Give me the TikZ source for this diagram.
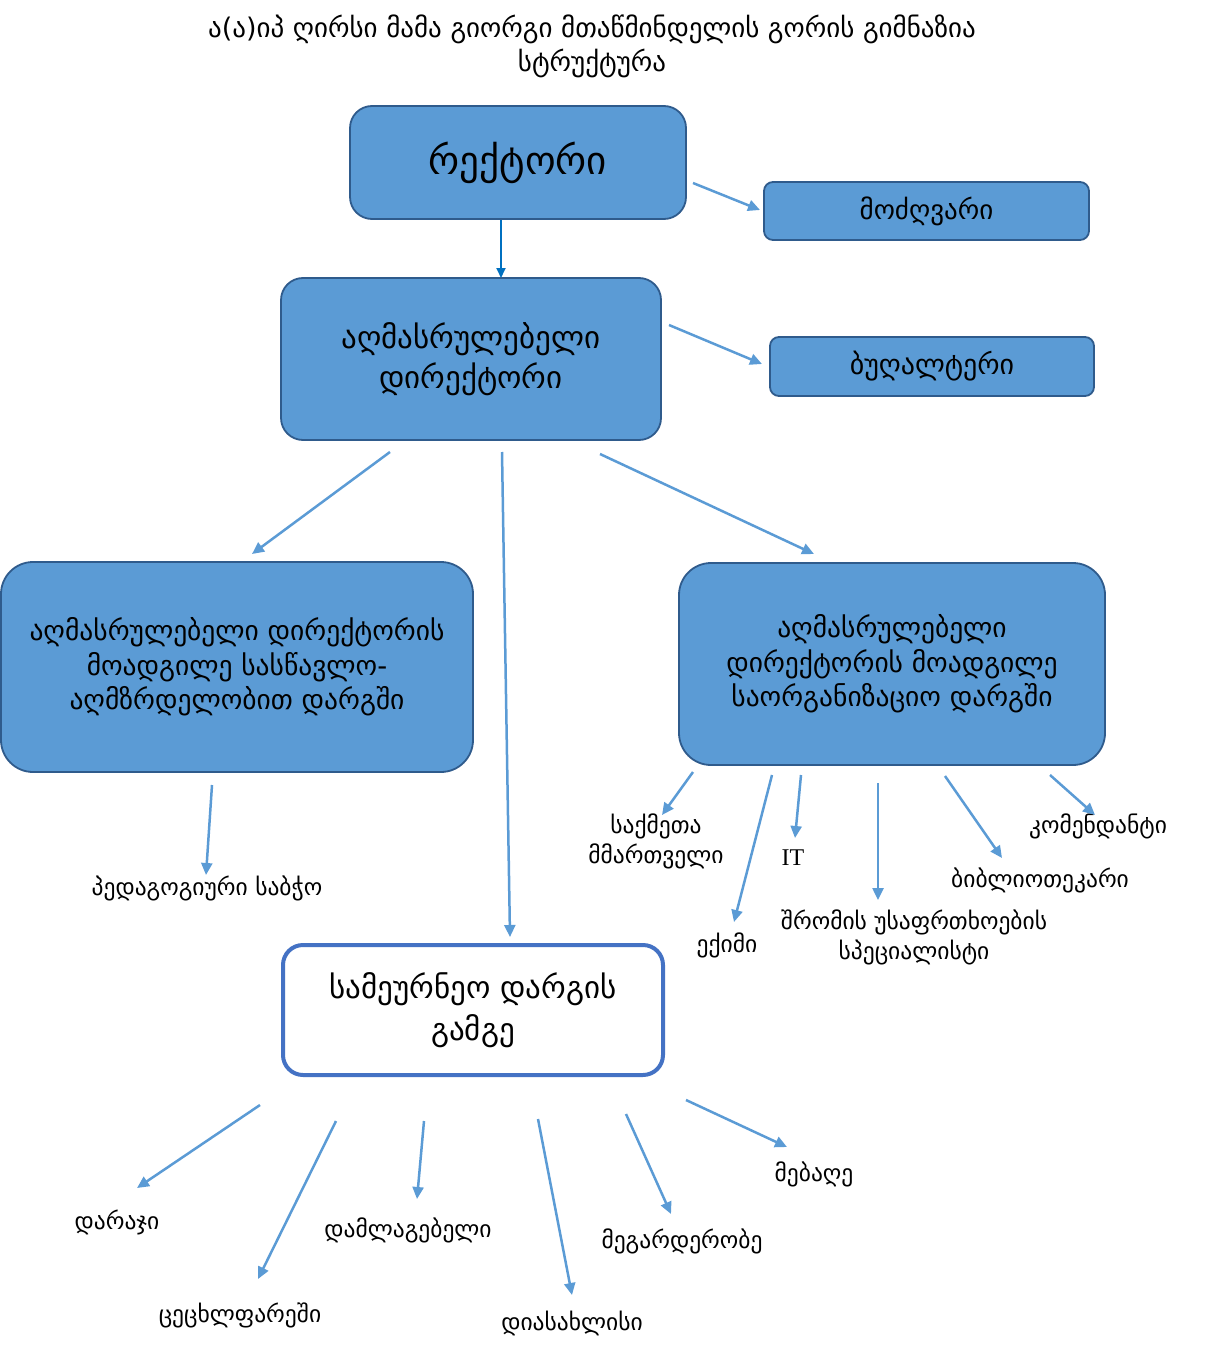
\documentclass[tikz,border=0pt]{standalone}
\usepackage{fontspec}
\setmainfont{DejaVu Sans}
\newfontfamily\itfont{Liberation Serif}
\usetikzlibrary{arrows.meta,calc}
\definecolor{boxfill}{HTML}{5B9BD5}
\definecolor{boxline}{HTML}{2F5B8C}
\definecolor{arrcol}{HTML}{5B9BD5}
\definecolor{darkarr}{HTML}{0070C0}
\definecolor{samline}{HTML}{4472C4}
\begin{document}
\begin{tikzpicture}[x=1pt,y=-1pt,
  bluebox/.style={draw=boxline, line width=1.8pt, fill=boxfill, rounded corners=22pt, align=center, inner sep=0pt},
  smallbox/.style={bluebox, rounded corners=9pt},
  lbl/.style={align=center, inner sep=0pt, font=\fontsize{23.5}{30}\selectfont},
  arr/.style={draw=arrcol, line width=2.5pt, -{Triangle[length=12pt,width=11pt]}},
  darr/.style={draw=darkarr, line width=1.8pt, -{Triangle[length=10pt,width=9pt]}}]
\useasboundingbox (0,0) rectangle (1208,1364);

% title
\node[align=center, inner sep=0pt, font=\fontsize{27}{34}\selectfont] (title) at (592,46)
  {ა(ა)იპ ღირსი მამა გიორგი მთაწმინდელის გორის გიმნაზია\\სტრუქტურა};

% boxes
\node[bluebox, minimum width=336pt, minimum height=113pt, font=\fontsize{39}{40}\selectfont] (rector) at (518,162.5) {რექტორი};
\node[smallbox, minimum width=325pt, minimum height=58pt, font=\fontsize{27}{30}\selectfont] (modz) at (926.5,211) {მოძღვარი};
\node[bluebox, minimum width=380pt, minimum height=162pt, font=\fontsize{31}{40}\selectfont] (exec) at (471,359) {აღმასრულებელი\\დირექტორი};
\node[smallbox, minimum width=324pt, minimum height=59pt, font=\fontsize{28}{30}\selectfont] (bug) at (932,366.5) {ბუღალტერი};
\node[bluebox, rounded corners=32pt, minimum width=472pt, minimum height=210pt, font=\fontsize{27.5}{34.5}\selectfont] (left) at (237,667)
  {აღმასრულებელი დირექტორის\\მოადგილე სასწავლო-\\აღმზრდელობით დარგში};
\node[bluebox, rounded corners=32pt, minimum width=426pt, minimum height=202pt, font=\fontsize{27.5}{34.5}\selectfont] (right) at (892,664)
  {აღმასრულებელი\\დირექტორის მოადგილე\\საორგანიზაციო დარგში};
\node[draw=samline, line width=4pt, fill=white, rounded corners=20pt, align=center, inner sep=0pt,
  minimum width=380pt, minimum height=130pt, font=\fontsize{31}{42}\selectfont] (sam) at (473,1010)
  {სამეურნეო დარგის\\გამგე};

% labels
\node[lbl] (ped) at (207,888) {პედაგოგიური საბჭო};
\node[lbl] (saqm) at (656,841) {საქმეთა\\მმართველი};
\node[lbl, font=\itfont\fontsize{24}{30}\selectfont] (it) at (793,858) {IT};
\node[lbl] (eqimi) at (727,945) {ექიმი};
\node[lbl] (shrom) at (914,937) {შრომის უსაფრთხოების\\სპეციალისტი};
\node[lbl] (bibl) at (1040,880) {ბიბლიოთეკარი};
\node[lbl] (komend) at (1098,826) {კომენდანტი};
\node[lbl] (daraji) at (117,1222) {დარაჯი};
\node[lbl] (cecxl) at (240,1315) {ცეცხლფარეში};
\node[lbl] (damlag) at (408,1230) {დამლაგებელი};
\node[lbl] (diasax) at (572,1323) {დიასახლისი};
\node[lbl] (megard) at (682,1241) {მეგარდერობე};
\node[lbl] (mebage) at (814,1174) {მებაღე};

% connectors
\draw[darr] ($(rector.center)+(-17,57.5)$) -- ($(exec.center)+(30,-81)$);
\draw[arr] ($(rector.center)+(175,20.5)$) -- ($(modz.center)+(-166.5,-1)$);
\draw[arr] ($(exec.center)+(198,-34)$) -- ($(bug.center)+(-170,-2.5)$);
\draw[arr] ($(exec.center)+(-81,93)$) -- ($(left.center)+(15,-113)$);
\draw[arr] ($(exec.center)+(31,93)$) -- ($(sam.center)+(37,-73)$);
\draw[arr] ($(exec.center)+(129,95)$) -- ($(right.center)+(-78,-110)$);
\draw[arr] ($(left.center)+(-25,118)$) -- ($(ped.center)+(-1,-13)$);

\draw[arr] ($(right.center)+(-199,108)$) -- ($(saqm.center)+(6,-26)$);
\draw[arr] ($(right.center)+(-120,111)$) -- ($(eqimi.center)+(7,-23)$);
\draw[arr] ($(right.center)+(-91,111)$) -- ($(it.center)+(2,-20)$);
\draw[arr] ($(right.center)+(-14,119)$) -- ($(shrom.center)+(-36,-37)$);
\draw[arr] ($(right.center)+(53,112)$) -- ($(bibl.center)+(-38,-22)$);
\draw[arr] ($(right.center)+(158,111)$) -- ($(komend.center)+(-3,-11)$);

\draw[arr] ($(sam.center)+(-213,95)$) -- ($(daraji.center)+(20,-34)$);
\draw[arr] ($(sam.center)+(-137,111)$) -- ($(cecxl.center)+(18,-36)$);
\draw[arr] ($(sam.center)+(-49,111)$) -- ($(damlag.center)+(9,-31)$);
\draw[arr] ($(sam.center)+(65,109)$) -- ($(diasax.center)+(0,-28)$);
\draw[arr] ($(sam.center)+(153,104)$) -- ($(megard.center)+(-11,-27)$);
\draw[arr] ($(sam.center)+(213,90)$) -- ($(mebage.center)+(-27,-27)$);
\end{tikzpicture}
\end{document}
